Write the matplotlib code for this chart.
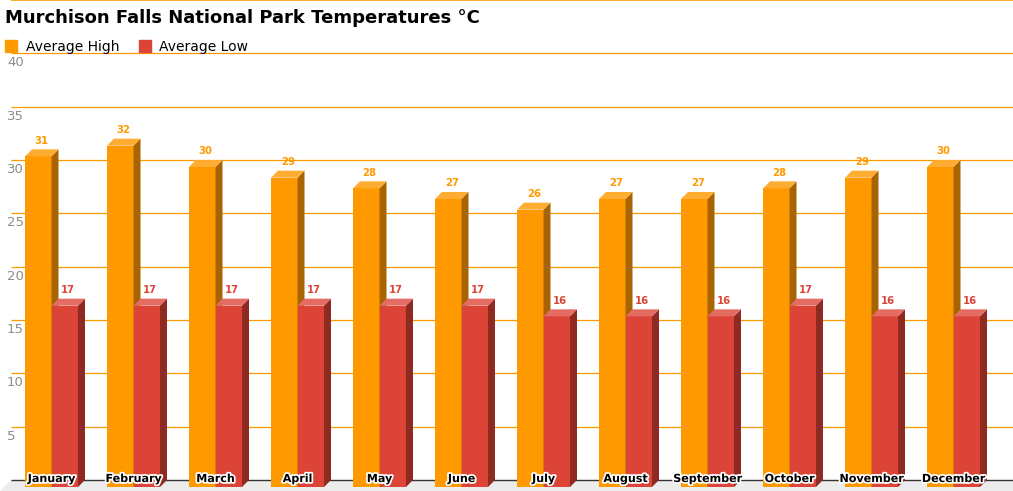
import matplotlib.pyplot as plt
import matplotlib.patheffects as pe
from matplotlib.patches import Polygon, Patch

months = ['January', 'February', 'March', 'April', 'May', 'June', 'July',
          'August', 'September', 'October', 'November', 'December']
avg_high = [31, 32, 30, 29, 28, 27, 26, 27, 27, 28, 29, 30]
avg_low = [17, 17, 17, 17, 17, 17, 16, 16, 16, 17, 16, 16]
yticks = [5, 10, 15, 20, 25, 30, 35, 40]

W, H = 1013, 491
px_x = 82.0          # pixels per category
px_y = 10.667        # pixels per degree
x0_px, y0_px = 51.5, 487.0   # pixel of category 0 / value 0 (front plane)

fig = plt.figure(figsize=(W / 100, H / 100), dpi=100)
ax = fig.add_axes([0, 0, 1, 1])
ax.set_xlim((0 - x0_px) / px_x, (W - x0_px) / px_x)
ax.set_ylim((y0_px - H) / px_y, y0_px / px_y)
ax.set_axis_off()

dx = 7 / px_x
dy = 7 / px_y
w = 26.5 / px_x
xl = (11 - x0_px) / px_x
xr = (W - x0_px) / px_x
ybot = ax.get_ylim()[0]

# floor
ax.add_patch(Polygon([(xl, dy), (xr, dy), (xr, ybot), (xl - dx * 1.6, ybot)],
                     closed=True, fc='#ececec', ec='none', zorder=0))
# gridlines on the back plane
ax.hlines([t + dy for t in yticks], xl, xr, color='#ff9900', lw=0.9, zorder=1)
ax.hlines(dy, xl, xr, color='#333333', lw=1.0, zorder=1)
ax.hlines((y0_px - 0.5) / px_y, xl, xr, color='#ff9900', lw=1.2, zorder=1)

for t in yticks:
    ax.text((7 - x0_px) / px_x, t - 0.25, str(t), ha='left', va='center',
            fontsize=9.5, color='#8c8c8c', zorder=2)


def bar3d(left, v, front, side, top, z):
    ax.bar(left, v, width=w, align='edge', color=front, lw=0, zorder=z)
    ax.add_patch(Polygon([(left + w, 0), (left + w + dx, dy),
                          (left + w + dx, v + dy), (left + w, v)],
                         closed=True, fc=side, ec='none', zorder=z))
    ax.add_patch(Polygon([(left, v), (left + dx, v + dy),
                          (left + w + dx, v + dy), (left + w, v)],
                         closed=True, fc=top, ec='none', zorder=z))


for i in range(len(months)):
    bar3d(i - w, avg_high[i], '#ff9900', '#a86400', '#ffac33', 3)
    bar3d(i, avg_low[i], '#db4437', '#8e2a22', '#e46c62', 4)
    ax.text(i - w / 2 + dx / 2, avg_high[i] + 1.2, str(avg_high[i]),
            ha='center', va='baseline', fontsize=7.3, fontweight='bold',
            color='#ff9900', zorder=6)
    ax.text(i + w / 2 + dx / 2, avg_low[i] + 1.2, str(avg_low[i]),
            ha='center', va='baseline', fontsize=7.3, fontweight='bold',
            color='#db4437', zorder=6)
    ax.text(i, 0.75, months[i], ha='center', va='center', fontsize=8,
            fontweight='bold', color='black', zorder=7,
            path_effects=[pe.withStroke(linewidth=2.5, foreground='white')])

fig.text(5 / W, 1 - 18 / H, 'Murchison Falls National Park Temperatures °C',
         ha='left', va='center', fontsize=13, fontweight='bold', color='black')

handles = [Patch(color='#ff9900', label='Average High'),
           Patch(color='#db4437', label='Average Low')]
fig.legend(handles=handles, loc='center left', bbox_to_anchor=(2 / W, 1 - 47 / H),
           ncol=2, frameon=False, fontsize=10, handlelength=0.9, handleheight=0.9,
           handletextpad=0.6, columnspacing=1.4, borderaxespad=0, borderpad=0.2)

fig.savefig('out.png', dpi=100)
